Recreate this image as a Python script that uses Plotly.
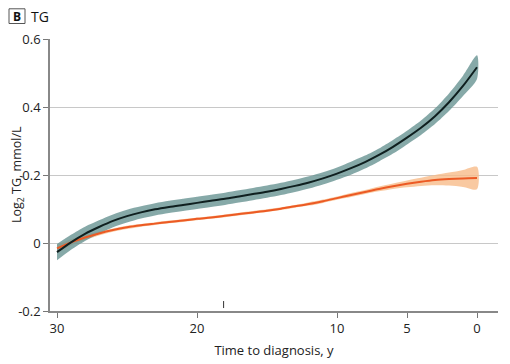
import plotly.graph_objects as go

years = list(range(30, -1, -1))
cases = [-0.027, 0.002, 0.027, 0.047, 0.065, 0.079, 0.090, 0.099, 0.106, 0.112, 0.118, 0.124, 0.130, 0.137, 0.144, 0.151,
         0.159, 0.168, 0.178, 0.190, 0.204, 0.220, 0.238, 0.259, 0.283, 0.310, 0.339, 0.373, 0.414, 0.462, 0.517]
cases_hw = [0.024, 0.022, 0.021, 0.020, 0.019, 0.019, 0.018, 0.018, 0.018, 0.018, 0.018, 0.018, 0.018, 0.018, 0.018, 0.018,
            0.018, 0.018, 0.018, 0.018, 0.018, 0.019, 0.019, 0.019, 0.020, 0.020, 0.021, 0.023, 0.026, 0.030, 0.035]
controls = [-0.016, 0.002, 0.016, 0.028, 0.038, 0.046, 0.052, 0.057, 0.062, 0.066, 0.071, 0.075, 0.080, 0.085, 0.090, 0.095,
            0.101, 0.108, 0.115, 0.123, 0.132, 0.141, 0.150, 0.159, 0.167, 0.174, 0.180, 0.185, 0.188, 0.190, 0.191]
controls_hw = [0.011, 0.009, 0.007, 0.006, 0.005, 0.005, 0.004, 0.004, 0.004, 0.004, 0.004, 0.004, 0.004, 0.004, 0.004, 0.004,
               0.004, 0.004, 0.005, 0.005, 0.005, 0.006, 0.006, 0.007, 0.008, 0.010, 0.012, 0.015, 0.019, 0.025, 0.033]
marker_year = [18.1]
marker_y = [-0.181]
x_ticks = [30, 20, 10, 5, 0]
y_ticks = [-0.2, 0, 0.2, 0.4, 0.6]
y_ticklabels = ["-0.2", "0", "0.2", "0.4", "0.6"]

FONT = "Open Sans"
fig = go.Figure()

def band(x, y, hw, fill):
    up = [a + b for a, b in zip(y, hw)]
    lo = [a - b for a, b in zip(y, hw)]
    fig.add_trace(go.Scatter(x=x + x[::-1], y=up + lo[::-1], fill="toself", fillcolor=fill,
                             line=dict(width=0, shape="spline", smoothing=0.8), mode="lines",
                             hoverinfo="skip", showlegend=False))

band(years, controls, controls_hw, "rgba(248,188,138,0.8)")
band(years, cases, cases_hw, "rgba(104,148,146,0.8)")
fig.add_trace(go.Scatter(x=years, y=controls, mode="lines",
                         line=dict(color="#ec5a24", width=2, shape="spline", smoothing=0.8),
                         showlegend=False))
fig.add_trace(go.Scatter(x=years, y=cases, mode="lines",
                         line=dict(color="#0f1f1f", width=2, shape="spline", smoothing=0.8),
                         showlegend=False))
fig.add_trace(go.Scatter(x=marker_year, y=marker_y, mode="markers",
                         marker=dict(symbol="line-ns", size=5, line=dict(width=1, color="#333333")),
                         showlegend=False))

# page body adds an 8px offset, so the figure is sized 8px smaller
PW, PH, L, T = 448, 272, 42, 31
fig.update_layout(
    width=502, height=356,
    margin=dict(l=L, r=12, t=T, b=53),
    paper_bgcolor="white", plot_bgcolor="white",
    font=dict(family=FONT, size=13, color="#222222"),
    xaxis=dict(range=[30.5, -1.5], tickvals=x_ticks, ticks="outside", ticklen=5,
               tickcolor="#777777", showline=True, linecolor="#888888", linewidth=1.5,
               showgrid=False, zeroline=False, automargin=False,
               title=dict(text="Time to diagnosis, y", font=dict(size=13), standoff=10),
               tickfont=dict(size=13)),
    yaxis=dict(range=[-0.2, 0.6], tickvals=y_ticks, ticktext=y_ticklabels, ticks="outside",
               ticklen=5, tickcolor="#777777", showline=True, linecolor="#888888", linewidth=1.5,
               showgrid=True, gridcolor="#c8c8c8", gridwidth=1, zeroline=False, automargin=False,
               tickfont=dict(size=13)),
)

def px(xf):
    return (xf - L) / PW

def py(yf):
    return 1 + (T - yf) / PH

fig.add_annotation(x=px(9), y=0.5, xref="paper", yref="paper", textangle=-90,
                   text="Log<sub>2</sub> TG, mmol/L", showarrow=False,
                   font=dict(size=12.5, color="#222222"), xanchor="center", yanchor="middle")

fig.add_shape(type="rect", xref="paper", yref="paper", x0=px(1), x1=px(17), y0=py(15.5), y1=py(0.8),
              line=dict(color="#555555", width=1), fillcolor="white")
fig.add_annotation(x=px(9), y=py(8), xref="paper", yref="paper",
                   text="<b>B</b>", showarrow=False, font=dict(size=12, color="#111111"),
                   xanchor="center", yanchor="middle")
fig.add_annotation(x=px(21), y=py(8), xref="paper", yref="paper",
                   text="TG", showarrow=False, font=dict(size=14, color="#111111"),
                   xanchor="left", yanchor="middle")

fig.write_html("out.html")
